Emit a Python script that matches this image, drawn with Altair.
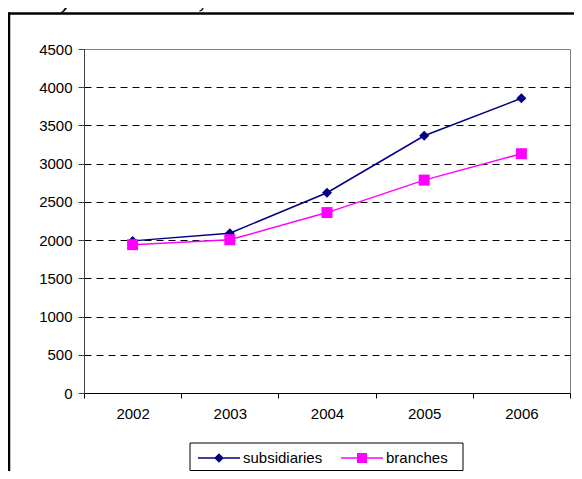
import altair as alt
import pandas as pd

years = ["2002", "2003", "2004", "2005", "2006"]
subsidiaries = [1990, 2090, 2620, 3365, 3855]
branches = [1940, 2005, 2360, 2785, 3130]
series_names = ["subsidiaries", "branches"]
series_colors = ["#000080", "#FF00FF"]
y_ticks = [0, 500, 1000, 1500, 2000, 2500, 3000, 3500, 4000, 4500]
title_text = "b) in volume, billion euros"

rows = []
for name, vals in zip(series_names, [subsidiaries, branches]):
    for yr, v in zip(years, vals):
        rows.append({"year": yr, "value": v, "series": name})
df = pd.DataFrame(rows)

FONT = "Liberation Sans"
W, H = 486, 344

x_enc = alt.X(
    "year:N",
    scale=alt.Scale(type="band", paddingInner=0, paddingOuter=0, domain=years),
    axis=alt.Axis(
        title=None, labelAngle=0, tickBand="extent", grid=False,
        tickSize=5, labelPadding=8, domainColor="black", tickColor="black",
        labelFont=FONT, labelFontSize=15, labelColor="black",
    ),
)
y_enc = alt.Y(
    "value:Q",
    scale=alt.Scale(domain=[0, 4500], nice=False),
    axis=alt.Axis(
        values=y_ticks, format="d", title=None, labelFont=FONT, labelFontSize=15,
        labelColor="black", tickSize=6, labelPadding=6,
        tickColor="#404040", domainColor="#404040",
        gridColor={"condition": {"test": "datum.value >= 4500 || datum.value <= 0",
                                 "value": "transparent"}, "value": "black"},
        gridDash=[7, 5], gridWidth=1,
    ),
)
color_scale = alt.Scale(domain=series_names, range=series_colors)

lines = alt.Chart(df).mark_line(strokeWidth=1.5).encode(
    x=x_enc, y=y_enc,
    color=alt.Color("series:N", scale=color_scale, legend=None),
)
pts_sub = alt.Chart(df).transform_filter(
    alt.datum.series == series_names[0]
).mark_point(filled=True, opacity=1, shape="diamond", size=100).encode(
    x=x_enc, y=y_enc,
    color=alt.Color("series:N", scale=color_scale, legend=None),
)
pts_br = alt.Chart(df).transform_filter(
    alt.datum.series == series_names[1]
).mark_point(filled=True, opacity=1, shape="square", size=121).encode(
    x=x_enc, y=y_enc,
    color=alt.Color("series:N", scale=color_scale, legend=None),
)

# legend box (one frame around both legend entries)
one = pd.DataFrame({"k": [1]})
legend_box = alt.Chart(one).mark_rect(fill="white", stroke="black", strokeWidth=1).encode(
    x=alt.value(106), x2=alt.value(379), y=alt.value(394), y2=alt.value(421.5)
)

# legend symbols: thin filled bar (the line) with the series marker on it
legend_paths = [
    "M-2.1,-0.07H2.1V0.07H-2.1ZM0,-0.48L0.48,0L0,0.48L-0.48,0Z",
    "M-2.1,-0.07H2.1V0.07H-2.1ZM-0.5,-0.5H0.5V0.5H-0.5Z",
]
legend_x = [113, 256]


def legend_entry(i):
    c = series_colors[i]
    lg = alt.Legend(
        orient="none", legendX=legend_x[i], legendY=398, direction="horizontal", title=None,
        padding=0, labelFont=FONT, labelFontSize=15, labelColor="black",
        symbolSize=400, symbolOffset=11, labelOffset=13,
        symbolFillColor=c, symbolStrokeColor=c, symbolStrokeWidth=1.5,
    )
    return alt.Chart(df).transform_filter("datum.value < 0").mark_point(
        filled=True, opacity=1, color=c, fill=c, stroke=c, strokeWidth=1.5
    ).encode(
        x=x_enc, y=y_enc,
        shape=alt.Shape("series:N", scale=alt.Scale(domain=[series_names[i]], range=[legend_paths[i]]), legend=lg),
    )


title_layer = alt.Chart(pd.DataFrame({"t": [title_text]})).mark_text(
    align="left", baseline="alphabetic", font="Liberation Serif", fontSize=30, color="black"
).encode(x=alt.value(-39), y=alt.value(-42), text="t:N")

top_line = alt.Chart(one).mark_rule(color="black", strokeWidth=2.5).encode(
    x=alt.value(-76), x2=alt.value(498), y=alt.value(-35.5)
)
left_line = alt.Chart(one).mark_rule(color="black", strokeWidth=2.5).encode(
    x=alt.value(-75), y=alt.value(-36.5), y2=alt.value(422)
)

chart = alt.layer(
    lines, pts_sub, pts_br, legend_box, legend_entry(0), legend_entry(1),
    title_layer, top_line, left_line
).resolve_scale(shape="independent").properties(
    width=W, height=H,
    autosize=alt.AutoSizeParams(type="none"),
    padding={"left": 76, "top": 41, "right": 4, "bottom": 78},
    background="white",
).configure_view(stroke="#808080", strokeWidth=1)

chart.save("out.html", embed_options={"renderer": "svg", "actions": False})
